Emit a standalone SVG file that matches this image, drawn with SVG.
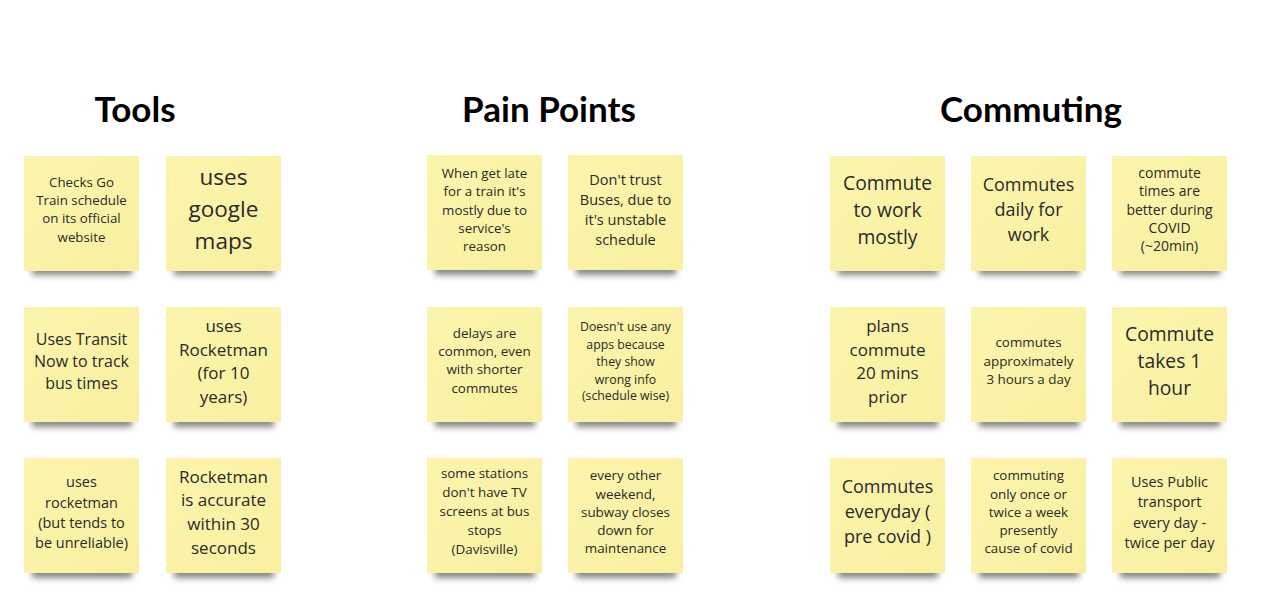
<svg xmlns="http://www.w3.org/2000/svg" width="1264" height="604" viewBox="0 0 1264 604">
<style>
.title{font-family:Lato,"Open Sans",sans-serif;font-weight:bold;font-size:35px;fill:#000;text-anchor:middle}
.note{fill:#fbf3a7}
.shadow{fill:#222;opacity:0.55}
.t{font-family:"Open Sans","DejaVu Sans",sans-serif;fill:#2a2a2a;text-anchor:middle}
</style>
<defs>
<filter id="blur" x="-20%" y="-100%" width="140%" height="300%"><feGaussianBlur stdDeviation="3"/></filter>
<linearGradient id="ng" x1="0" y1="0" x2="1" y2="1"><stop offset="0" stop-color="#fcf5ad"/><stop offset="1" stop-color="#f8efa0"/></linearGradient>
</defs>
<rect width="1264" height="604" fill="#ffffff"/>
<text class="title" x="135" y="122">Tools</text>
<text class="title" x="549" y="122">Pain Points</text>
<text class="title" x="1031" y="122">Commuting</text>

<g id="tools-1"><rect class="shadow" filter="url(#blur)" x="32" y="262" width="100" height="13"/><rect x="24" y="156" width="115" height="115" fill="url(#ng)"/>
<text class="t" font-size="13.3" x="81.5"><tspan x="81.5" y="187">Checks Go</tspan><tspan x="81.5" y="205">Train schedule</tspan><tspan x="81.5" y="223">on its official</tspan><tspan x="81.5" y="242">website</tspan></text></g>
<g id="tools-2"><rect class="shadow" filter="url(#blur)" x="174" y="262" width="100" height="13"/><rect x="166" y="156" width="115" height="115" fill="url(#ng)"/>
<text class="t" font-size="22.5" x="223.5"><tspan x="223.5" y="185">uses</tspan><tspan x="223.5" y="217">google</tspan><tspan x="223.5" y="249">maps</tspan></text></g>
<g id="tools-3"><rect class="shadow" filter="url(#blur)" x="32" y="414" width="100" height="13"/><rect x="24" y="307" width="115" height="115" fill="url(#ng)"/>
<text class="t" font-size="16" x="81.5"><tspan x="81.5" y="345">Uses Transit</tspan><tspan x="81.5" y="367">Now to track</tspan><tspan x="81.5" y="389">bus times</tspan></text></g>
<g id="tools-4"><rect class="shadow" filter="url(#blur)" x="174" y="414" width="100" height="13"/><rect x="166" y="307" width="115" height="115" fill="url(#ng)"/>
<text class="t" font-size="17" x="223.5"><tspan x="223.5" y="332">uses</tspan><tspan x="223.5" y="356">Rocketman</tspan><tspan x="223.5" y="379">(for 10</tspan><tspan x="223.5" y="403">years)</tspan></text></g>
<g id="tools-5"><rect class="shadow" filter="url(#blur)" x="32" y="565" width="100" height="13"/><rect x="24" y="458" width="115" height="115" fill="url(#ng)"/>
<text class="t" font-size="14.5" x="81.5"><tspan x="81.5" y="487">uses</tspan><tspan x="81.5" y="508">rocketman</tspan><tspan x="81.5" y="528">(but tends to</tspan><tspan x="81.5" y="548">be unreliable)</tspan></text></g>
<g id="tools-6"><rect class="shadow" filter="url(#blur)" x="174" y="565" width="100" height="13"/><rect x="166" y="458" width="115" height="115" fill="url(#ng)"/>
<text class="t" font-size="17" x="223.5"><tspan x="223.5" y="483">Rocketman</tspan><tspan x="223.5" y="506">is accurate</tspan><tspan x="223.5" y="530">within 30</tspan><tspan x="223.5" y="554">seconds</tspan></text></g>

<g id="pain-1"><rect class="shadow" filter="url(#blur)" x="435" y="262" width="100" height="13"/><rect x="427" y="155" width="115" height="115" fill="url(#ng)"/>
<text class="t" font-size="13.3" x="484.5"><tspan x="484.5" y="178">When get late</tspan><tspan x="484.5" y="196">for a train it's</tspan><tspan x="484.5" y="215">mostly due to</tspan><tspan x="484.5" y="233">service's</tspan><tspan x="484.5" y="251">reason</tspan></text></g>
<g id="pain-2"><rect class="shadow" filter="url(#blur)" x="576" y="262" width="100" height="13"/><rect x="568" y="155" width="115" height="115" fill="url(#ng)"/>
<text class="t" font-size="14.5" x="625.5"><tspan x="625.5" y="185">Don't trust</tspan><tspan x="625.5" y="205">Buses, due to</tspan><tspan x="625.5" y="225">it's unstable</tspan><tspan x="625.5" y="245">schedule</tspan></text></g>
<g id="pain-3"><rect class="shadow" filter="url(#blur)" x="435" y="414" width="100" height="13"/><rect x="427" y="307" width="115" height="115" fill="url(#ng)"/>
<text class="t" font-size="13.4" x="484.5"><tspan x="484.5" y="338">delays are</tspan><tspan x="484.5" y="356">common, even</tspan><tspan x="484.5" y="374">with shorter</tspan><tspan x="484.5" y="393">commutes</tspan></text></g>
<g id="pain-4"><rect class="shadow" filter="url(#blur)" x="576" y="414" width="100" height="13"/><rect x="568" y="307" width="115" height="115" fill="url(#ng)"/>
<text class="t" font-size="12.3" x="625.5"><tspan x="625.5" y="331">Doesn't use any</tspan><tspan x="625.5" y="349">apps because</tspan><tspan x="625.5" y="366">they show</tspan><tspan x="625.5" y="384">wrong info</tspan><tspan x="625.5" y="400">(schedule wise)</tspan></text></g>
<g id="pain-5"><rect class="shadow" filter="url(#blur)" x="435" y="565" width="100" height="13"/><rect x="427" y="458" width="115" height="115" fill="url(#ng)"/>
<text class="t" font-size="13.4" x="484.5"><tspan x="484.5" y="478">some stations</tspan><tspan x="484.5" y="497">don't have TV</tspan><tspan x="484.5" y="516">screens at bus</tspan><tspan x="484.5" y="535">stops</tspan><tspan x="484.5" y="554">(Davisville)</tspan></text></g>
<g id="pain-6"><rect class="shadow" filter="url(#blur)" x="576" y="565" width="100" height="13"/><rect x="568" y="458" width="115" height="115" fill="url(#ng)"/>
<text class="t" font-size="13.4" x="625.5"><tspan x="625.5" y="480">every other</tspan><tspan x="625.5" y="499">weekend,</tspan><tspan x="625.5" y="517">subway closes</tspan><tspan x="625.5" y="535">down for</tspan><tspan x="625.5" y="553">maintenance</tspan></text></g>

<g id="commute-1"><rect class="shadow" filter="url(#blur)" x="838" y="262" width="100" height="13"/><rect x="830" y="156" width="115" height="115" fill="url(#ng)"/>
<text class="t" font-size="19.3" x="887.5"><tspan x="887.5" y="190">Commute</tspan><tspan x="887.5" y="217">to work</tspan><tspan x="887.5" y="244">mostly</tspan></text></g>
<g id="commute-2"><rect class="shadow" filter="url(#blur)" x="979" y="262" width="100" height="13"/><rect x="971" y="156" width="115" height="115" fill="url(#ng)"/>
<text class="t" font-size="18" x="1028.5"><tspan x="1028.5" y="191">Commutes</tspan><tspan x="1028.5" y="216">daily for</tspan><tspan x="1028.5" y="241">work</tspan></text></g>
<g id="commute-3"><rect class="shadow" filter="url(#blur)" x="1120" y="262" width="100" height="13"/><rect x="1112" y="156" width="115" height="115" fill="url(#ng)"/>
<text class="t" font-size="14" x="1169.5"><tspan x="1169.5" y="178">commute</tspan><tspan x="1169.5" y="196">times are</tspan><tspan x="1169.5" y="215">better during</tspan><tspan x="1169.5" y="233">COVID</tspan><tspan x="1169.5" y="251">(~20min)</tspan></text></g>
<g id="commute-4"><rect class="shadow" filter="url(#blur)" x="838" y="414" width="100" height="13"/><rect x="830" y="307" width="115" height="115" fill="url(#ng)"/>
<text class="t" font-size="17" x="887.5"><tspan x="887.5" y="332">plans</tspan><tspan x="887.5" y="356">commute</tspan><tspan x="887.5" y="379">20 mins</tspan><tspan x="887.5" y="403">prior</tspan></text></g>
<g id="commute-5"><rect class="shadow" filter="url(#blur)" x="979" y="414" width="100" height="13"/><rect x="971" y="307" width="115" height="115" fill="url(#ng)"/>
<text class="t" font-size="13.4" x="1028.5"><tspan x="1028.5" y="347">commutes</tspan><tspan x="1028.5" y="366">approximately</tspan><tspan x="1028.5" y="384">3 hours a day</tspan></text></g>
<g id="commute-6"><rect class="shadow" filter="url(#blur)" x="1120" y="414" width="100" height="13"/><rect x="1112" y="307" width="115" height="115" fill="url(#ng)"/>
<text class="t" font-size="19.3" x="1169.5"><tspan x="1169.5" y="341">Commute</tspan><tspan x="1169.5" y="368">takes 1</tspan><tspan x="1169.5" y="395">hour</tspan></text></g>
<g id="commute-7"><rect class="shadow" filter="url(#blur)" x="838" y="565" width="100" height="13"/><rect x="830" y="458" width="115" height="115" fill="url(#ng)"/>
<text class="t" font-size="18" x="887.5"><tspan x="887.5" y="493">Commutes</tspan><tspan x="887.5" y="518">everyday (</tspan><tspan x="887.5" y="543">pre covid )</tspan></text></g>
<g id="commute-8"><rect class="shadow" filter="url(#blur)" x="979" y="565" width="100" height="13"/><rect x="971" y="458" width="115" height="115" fill="url(#ng)"/>
<text class="t" font-size="13.4" x="1028.5"><tspan x="1028.5" y="480">commuting</tspan><tspan x="1028.5" y="499">only once or</tspan><tspan x="1028.5" y="517">twice a week</tspan><tspan x="1028.5" y="535">presently</tspan><tspan x="1028.5" y="553">cause of covid</tspan></text></g>
<g id="commute-9"><rect class="shadow" filter="url(#blur)" x="1120" y="565" width="100" height="13"/><rect x="1112" y="458" width="115" height="115" fill="url(#ng)"/>
<text class="t" font-size="14.5" x="1169.5"><tspan x="1169.5" y="487">Uses Public</tspan><tspan x="1169.5" y="507">transport</tspan><tspan x="1169.5" y="528">every day -</tspan><tspan x="1169.5" y="548">twice per day</tspan></text></g>
</svg>
